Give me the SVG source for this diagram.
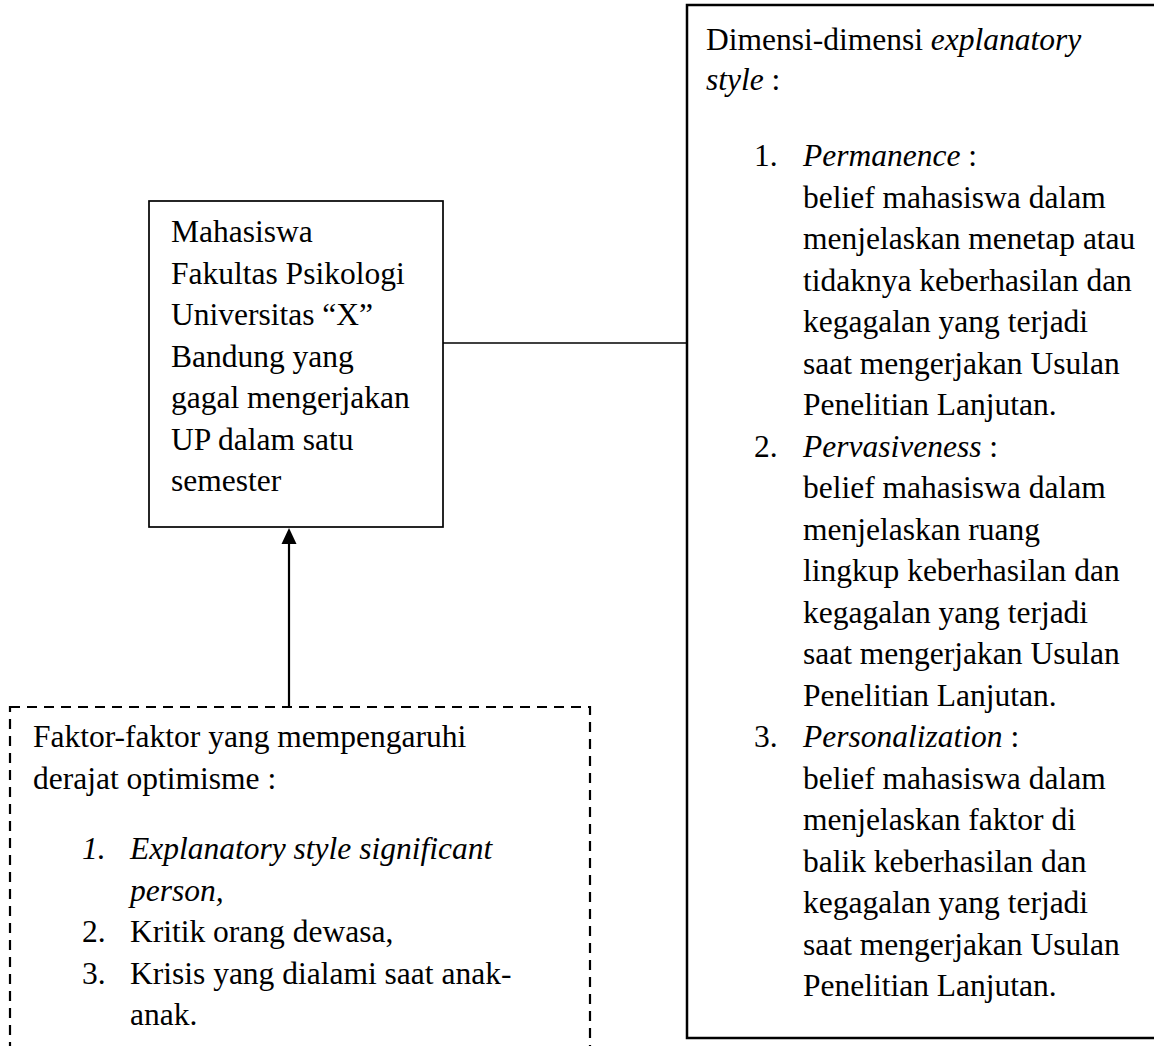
<svg xmlns="http://www.w3.org/2000/svg" width="1154" height="1046" viewBox="0 0 1154 1046">
<style>
text{font-family:"Liberation Serif","Times New Roman",serif;font-size:31.5px;fill:#000}
.i{font-style:italic}
.box{fill:#fff;stroke:#000}
</style>
<rect width="1154" height="1046" fill="#fff"/>
<g id="connectors" stroke="#000" fill="none">
<line x1="443" y1="343" x2="687" y2="343" stroke-width="1.6"/>
<line x1="289" y1="707" x2="289" y2="540" stroke-width="2.2"/>
<path d="M289,528 L296.5,544 L281.5,544 Z" fill="#000" stroke="none"/>
</g>
<g id="node-subject">
<rect class="box" x="149" y="201" width="294" height="326" stroke-width="1.7"/>
<text x="171" y="242">Mahasiswa</text>
<text x="171" y="283.5">Fakultas Psikologi</text>
<text x="171" y="325">Universitas “X”</text>
<text x="171" y="366.5">Bandung yang</text>
<text x="171" y="408">gagal mengerjakan</text>
<text x="171" y="449.5">UP dalam satu</text>
<text x="171" y="491">semester</text>
</g>
<g id="node-dimensions">
<rect class="box" x="687" y="5" width="480" height="1033" stroke-width="2.5"/>
<text x="706" y="50">Dimensi-dimensi <tspan class="i">explanatory</tspan></text>
<text x="706" y="90"><tspan class="i">style</tspan> :</text>
<text x="754" y="166">1.</text><text x="803" y="166"><tspan class="i">Permanence</tspan> :</text>
<text x="803" y="207.5">belief mahasiswa dalam</text>
<text x="803" y="249">menjelaskan menetap atau</text>
<text x="803" y="290.5">tidaknya keberhasilan dan</text>
<text x="803" y="332">kegagalan yang terjadi</text>
<text x="803" y="373.5">saat mengerjakan Usulan</text>
<text x="803" y="415">Penelitian Lanjutan.</text>
<text x="754" y="456.5">2.</text><text x="803" y="456.5"><tspan class="i">Pervasiveness</tspan> :</text>
<text x="803" y="498">belief mahasiswa dalam</text>
<text x="803" y="539.5">menjelaskan ruang</text>
<text x="803" y="581">lingkup keberhasilan dan</text>
<text x="803" y="622.5">kegagalan yang terjadi</text>
<text x="803" y="664">saat mengerjakan Usulan</text>
<text x="803" y="705.5">Penelitian Lanjutan.</text>
<text x="754" y="747">3.</text><text x="803" y="747"><tspan class="i">Personalization</tspan> :</text>
<text x="803" y="788.5">belief mahasiswa dalam</text>
<text x="803" y="830">menjelaskan faktor di</text>
<text x="803" y="871.5">balik keberhasilan dan</text>
<text x="803" y="913">kegagalan yang terjadi</text>
<text x="803" y="954.5">saat mengerjakan Usulan</text>
<text x="803" y="996">Penelitian Lanjutan.</text>
</g>
<g id="node-factors">
<rect x="10" y="707" width="580" height="400" fill="none" stroke="#000" stroke-width="2.2" stroke-dasharray="10,7"/>
<text x="33" y="747">Faktor-faktor yang mempengaruhi</text>
<text x="33" y="789">derajat optimisme :</text>
<text x="82" y="859" class="i">1.</text><text x="130" y="859" class="i">Explanatory style significant</text>
<text x="130" y="900.5" class="i">person,</text>
<text x="82" y="942">2.</text><text x="130" y="942">Kritik orang dewasa,</text>
<text x="82" y="983.5">3.</text><text x="130" y="983.5">Krisis yang dialami saat anak-</text>
<text x="130" y="1025">anak.</text>
</g>
</svg>
